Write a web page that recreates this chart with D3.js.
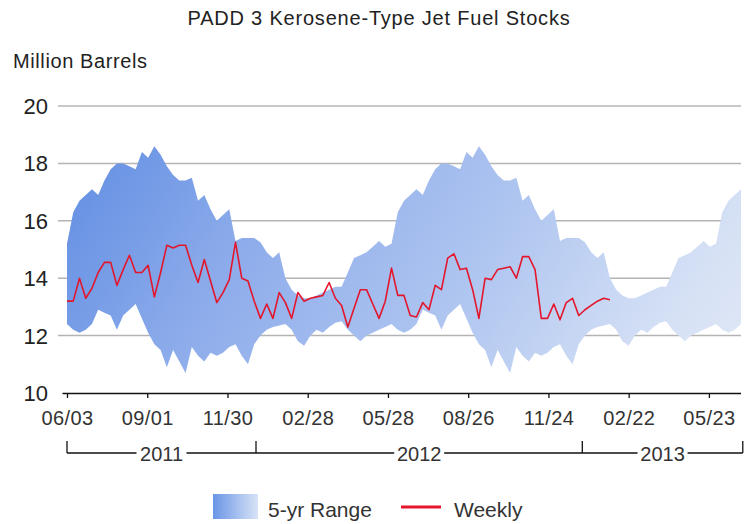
<!DOCTYPE html>
<html>
<head>
<meta charset="utf-8">
<script src="https://cdn.jsdelivr.net/npm/d3@7"></script>
<style>
  body { margin: 0; background: #fff; }
  svg { display: block; font-family: "Liberation Sans", Arial, sans-serif; }
</style>
</head>
<body>
<div id="container"></div>
<script>
var width = 756;
var height = 524;

// weekly stocks, one value a week from 2011-06-03
var weeklyStart = "2011-06-03";
var weekly = [13.2, 13.2, 14.0, 13.3, 13.65, 14.2, 14.55, 14.55, 13.75, 14.3,
  14.8, 14.2, 14.2, 14.45, 13.35, 14.2, 15.15, 15.05, 15.15, 15.15,
  14.45, 13.85, 14.65, 13.9, 13.15, 13.5, 13.95, 15.25, 14.0, 13.9,
  13.2, 12.6, 13.1, 12.6, 13.5, 13.15, 12.6, 13.5, 13.2, 13.3,
  13.35, 13.4, 13.85, 13.3, 13.05, 12.3, 12.95, 13.6, 13.6, 13.1,
  12.6, 13.2, 14.35, 13.4, 13.4, 12.7, 12.65, 13.15, 12.9, 13.75,
  13.6, 14.7, 14.85, 14.3, 14.35, 13.6, 12.6, 14.0, 13.95, 14.3,
  14.35, 14.4, 14.0, 14.75, 14.75, 14.3, 12.6, 12.6, 13.1, 12.55,
  13.15, 13.3, 12.7, 12.9, 13.05, 13.2, 13.3, 13.25];

// 5-yr range by week of the year, starting with the first week of June
var rangeHigh = [15.2, 16.3, 16.7, 16.9, 17.1, 16.9, 17.4, 17.8, 18.0, 18.0,
  17.9, 17.8, 18.4, 18.2, 18.6, 18.3, 17.9, 17.6, 17.4, 17.4,
  17.5, 16.7, 16.9, 16.4, 16.0, 16.2, 16.4, 15.3, 15.4, 15.4,
  15.4, 15.25, 14.9, 14.7, 14.9, 14.0, 13.6, 13.4, 13.3, 13.3,
  13.4, 13.5, 13.6, 13.7, 13.7, 14.2, 14.7, 14.8, 14.9, 15.1,
  15.3, 15.1];
var rangeLow = [12.4, 12.2, 12.1, 12.2, 12.4, 12.9, 12.8, 12.7, 12.2, 12.7,
  12.9, 13.1, 12.6, 12.1, 11.7, 11.5, 10.9, 11.5, 11.1, 10.7,
  11.6, 11.3, 11.1, 11.4, 11.3, 11.4, 11.6, 11.7, 11.3, 11.0,
  11.7, 12.0, 12.2, 12.3, 12.35, 12.4, 12.2, 11.8, 11.65, 12.0,
  12.2, 12.1, 12.3, 12.45, 12.5, 12.2, 12.0, 11.8, 12.0, 12.1,
  12.2, 12.3];
var rangeWeeks = 109; // 2011-06-03 .. 2013-06-28

var tickDates = ["2011-06-03", "2011-09-01", "2011-11-30", "2012-02-28", "2012-05-28",
  "2012-08-26", "2012-11-24", "2013-02-22", "2013-05-23"];
var years = ["2011", "2012", "2013"];
var yearEdges = ["2011-06-03", "2012-01-01", "2013-01-01", "2013-06-30"];
var yTicks = [10, 12, 14, 16, 18, 20];

var parse = d3.utcParse("%Y-%m-%d");
var fmt = d3.utcFormat("%m/%d");
var t0 = parse(weeklyStart);

var weeklyData = weekly.map((v, i) => ({ date: d3.utcWeek.offset(t0, i), v: v }));
var rangeData = d3.range(rangeWeeks).map((i) => ({
  date: d3.utcWeek.offset(t0, i),
  hi: rangeHigh[i % rangeHigh.length],
  lo: rangeLow[i % rangeLow.length]
}));

var svg = d3
  .select("div#container")
  .append("svg")
  .attr("width", width)
  .attr("height", height);

var x = d3.scaleUtc()
  .domain([parse("2011-06-03"), parse("2013-06-28")])
  .range([67, 741]);
var y = d3.scaleLinear().domain([10, 20]).range([393, 106]);

var defs = svg.append("defs");
var grad = defs.append("linearGradient")
  .attr("id", "bandGrad")
  .attr("gradientUnits", "userSpaceOnUse")
  .attr("x1", 60).attr("y1", 100).attr("x2", 740).attr("y2", 520);
[[0, "#5a89e1"], [0.3, "#8fadeb"], [0.55, "#aec5f0"], [0.8, "#d6e1f5"], [1, "#e8eef8"]]
  .forEach((s) => grad.append("stop").attr("offset", s[0]).attr("stop-color", s[1]));

var legGrad = defs.append("linearGradient").attr("id", "legGrad");
legGrad.append("stop").attr("offset", 0).attr("stop-color", "#6a95e6");
legGrad.append("stop").attr("offset", 1).attr("stop-color", "#d8e3f6");

// title
svg.append("text")
  .attr("x", 379).attr("y", 25)
  .attr("text-anchor", "middle")
  .style("font-size", "20px").style("letter-spacing", "0.8px").style("fill", "#222")
  .text("PADD 3 Kerosene-Type Jet Fuel Stocks");

svg.append("text")
  .attr("x", 13).attr("y", 68)
  .style("font-size", "20px").style("letter-spacing", "0.6px").style("fill", "#222")
  .text("Million Barrels");

// grid
svg.append("g")
  .selectAll("line")
  .data(yTicks.filter((d) => d > 10))
  .enter()
  .append("line")
  .attr("x1", 58).attr("x2", 741)
  .attr("y1", (d) => y(d)).attr("y2", (d) => y(d))
  .attr("stroke", "#b4b4b4").attr("stroke-width", 1.5);

svg.append("g")
  .selectAll("text")
  .data(yTicks)
  .enter()
  .append("text")
  .attr("x", 48).attr("y", (d) => y(d) + 8)
  .attr("text-anchor", "end")
  .style("font-size", "22px").style("fill", "#222")
  .text((d) => d);

// 5-yr range band
var area = d3.area()
  .x((d) => x(d.date))
  .y0((d) => y(d.lo))
  .y1((d) => y(d.hi));
svg.append("path")
  .datum(rangeData)
  .attr("d", area)
  .attr("fill", "url(#bandGrad)");

// weekly line
var line = d3.line().x((d) => x(d.date)).y((d) => y(d.v));
svg.append("path")
  .datum(weeklyData)
  .attr("d", line)
  .attr("fill", "none")
  .attr("stroke", "#e3162c")
  .attr("stroke-width", 1.6)
  .attr("stroke-linejoin", "round");

// x axis
var xAxis = d3.axisBottom(x)
  .tickValues(tickDates.map(parse))
  .tickFormat(fmt)
  .tickSize(5)
  .tickSizeOuter(0);
var gx = svg.append("g")
  .attr("transform", "translate(0," + y(10) + ")")
  .call(xAxis);
gx.select(".domain").attr("d", "M62.5,0.5H741").attr("stroke", "#111").attr("stroke-width", 1.6);
gx.selectAll(".tick line").attr("stroke", "#111").attr("stroke-width", 1.3);
gx.selectAll(".tick text")
  .attr("y", 18)
  .style("font-size", "20px")
  .style("letter-spacing", "0.4px")
  .style("font-family", "'Liberation Sans', Arial, sans-serif")
  .style("fill", "#333");

// year brackets
var yb = 453;
var edgesX = yearEdges.map((d) => x(parse(d)));
svg.append("line")
  .attr("x1", edgesX[0]).attr("x2", edgesX[3])
  .attr("y1", yb).attr("y2", yb)
  .attr("stroke", "#111").attr("stroke-width", 1.3);
svg.append("g")
  .selectAll("line")
  .data(edgesX)
  .enter()
  .append("line")
  .attr("x1", (d) => d).attr("x2", (d) => d)
  .attr("y1", yb - 12).attr("y2", yb)
  .attr("stroke", "#111").attr("stroke-width", 1.3);
var yearG = svg.append("g")
  .selectAll("g")
  .data(years)
  .enter()
  .append("g")
  .attr("transform", (d, i) => "translate(" + (edgesX[i] + edgesX[i + 1]) / 2 + "," + yb + ")");
yearG.append("rect")
  .attr("x", -25).attr("y", -6).attr("width", 50).attr("height", 14)
  .attr("fill", "#fff");
yearG.append("text")
  .attr("y", 8)
  .attr("text-anchor", "middle")
  .style("font-size", "20px").style("fill", "#333")
  .text((d) => d);

// legend
svg.append("rect")
  .attr("x", 213).attr("y", 494).attr("width", 45).attr("height", 25)
  .attr("fill", "url(#legGrad)");
svg.append("text")
  .attr("x", 268).attr("y", 517)
  .style("font-size", "21px").style("fill", "#333")
  .text("5-yr Range");
svg.append("line")
  .attr("x1", 401).attr("x2", 441).attr("y1", 507).attr("y2", 507)
  .attr("stroke", "#e3162c").attr("stroke-width", 3);
svg.append("text")
  .attr("x", 454).attr("y", 517)
  .style("font-size", "21px").style("fill", "#333")
  .text("Weekly");
</script>
</body>
</html>
